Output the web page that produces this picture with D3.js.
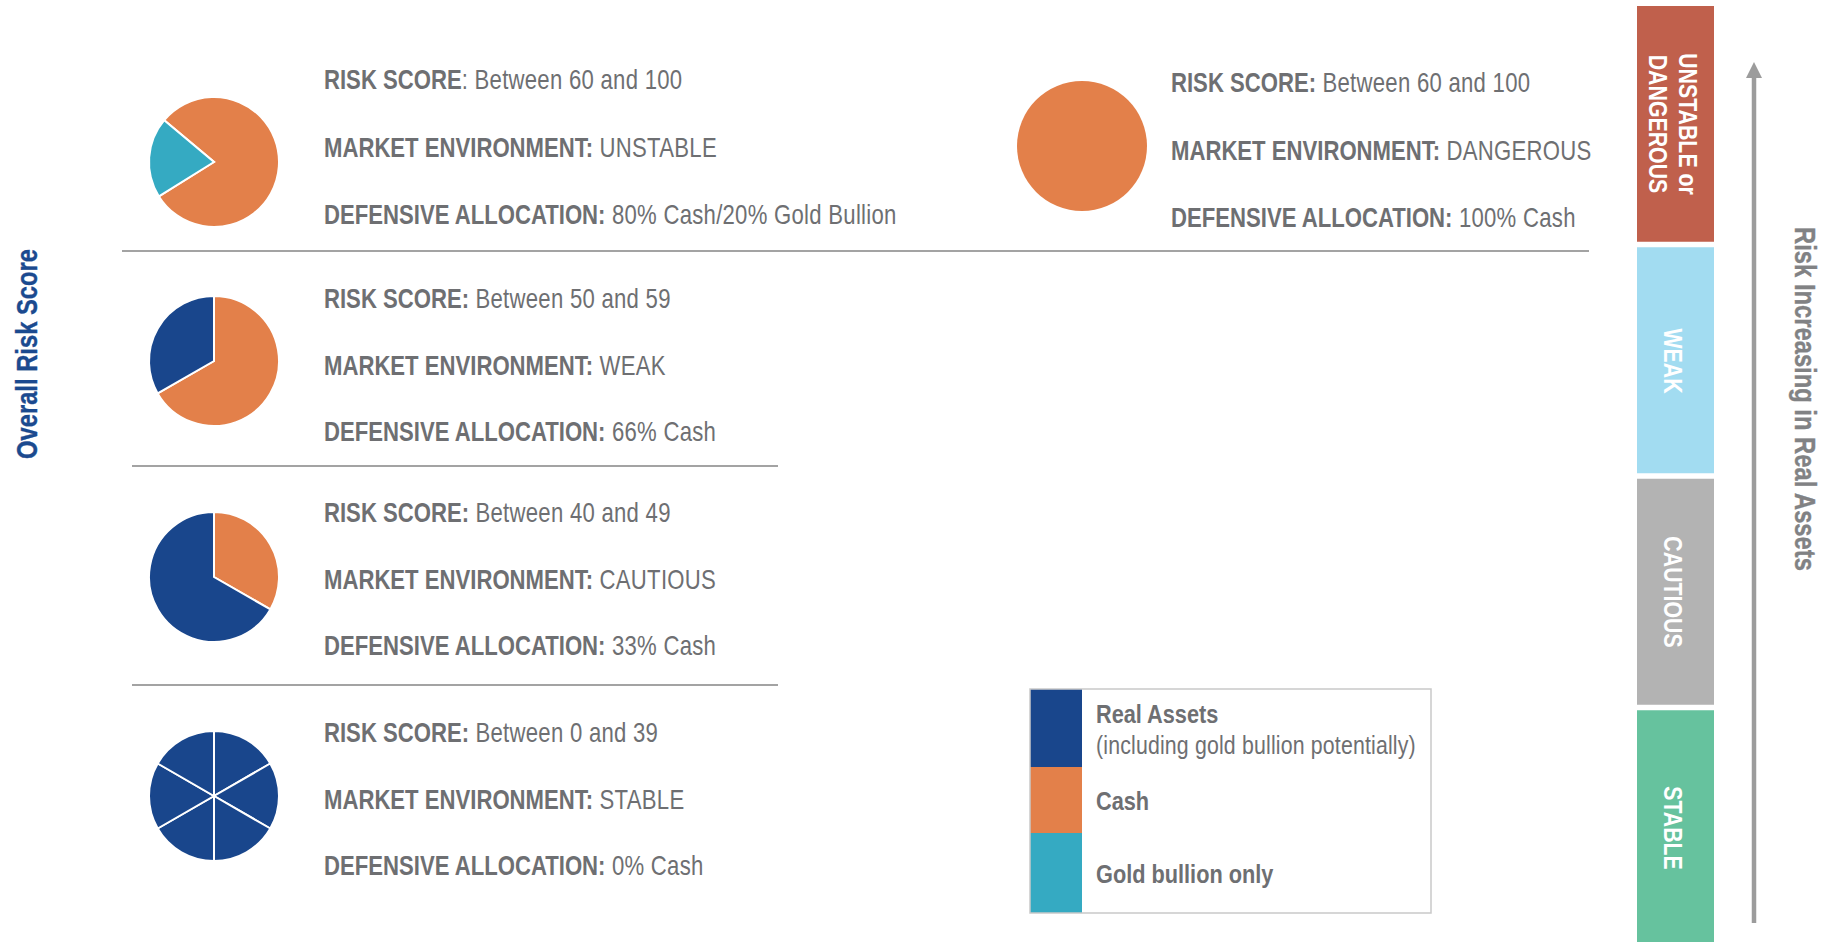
<!DOCTYPE html>
<html>
<head>
<meta charset="utf-8">
<script src="https://cdn.jsdelivr.net/npm/d3@7/dist/d3.min.js"></script>
<style>
  html, body { margin: 0; padding: 0; background: #ffffff; }
  svg { display: block; }
  text { white-space: pre; }
</style>
</head>
<body>
<div id="chart"></div>
<script>
// ---------------- DATA ----------------
const fieldNames   = ["RISK SCORE", "MARKET ENVIRONMENT", "DEFENSIVE ALLOCATION"];
const environments = ["UNSTABLE", "WEAK", "CAUTIOUS", "STABLE", "DANGEROUS"];
const riskRanges   = ["Between 60 and 100", "Between 50 and 59", "Between 40 and 49", "Between 0 and 39", "Between 60 and 100"];
const allocations  = ["80% Cash/20% Gold Bullion", "66% Cash", "33% Cash", "0% Cash", "100% Cash"];

// pie slices (percent of portfolio), in drawing order
const pieValues = [
  [80, 20],
  [66.7, 33.3],
  [33.3, 66.7],
  [16.7, 16.7, 16.7, 16.7, 16.7, 16.7],
  [100]
];
const pieKinds = [
  ["Cash", "Gold"],
  ["Cash", "Real"],
  ["Cash", "Real"],
  ["Real", "Real", "Real", "Real", "Real", "Real"],
  ["Cash"]
];
const pieStartDeg = [-50, 0, 0, 0, 0];

const legendLabels = ["Real Assets", "Cash", "Gold bullion only"];
const legendKinds  = ["Real", "Cash", "Gold"];
const legendNote   = "(including gold bullion potentially)";

const bandLabels = [["UNSTABLE or", "DANGEROUS"], ["WEAK"], ["CAUTIOUS"], ["STABLE"]];
const leftTitle  = "Overall Risk Score";
const rightTitle = "Risk Increasing in Real Assets";

// ---------------- STYLE ----------------
const W = 1826, H = 942;
const COLORS = { Cash: "#e3804a", Gold: "#35aac2", Real: "#19468c" };
const BAND_COLORS = ["#c0604c", "#a2dcf1", "#b3b3b3", "#66c29e"];
const TEXT_GRAY = "#6e6f72";
const TITLE_BLUE = "#1b4a8f";
const ARROW_GRAY = "#9c9c9c";
const RULE_GRAY = "#a3a3a3";

const svg = d3.select("#chart").append("svg")
  .attr("width", W).attr("height", H)
  .attr("viewBox", `0 0 ${W} ${H}`);

// --- font detection (condensed font) ---
function measure(family, weight) {
  const t = svg.append("text").attr("font-family", family).attr("font-weight", weight)
    .attr("font-size", 100).text("DEFENSIVE ALLOCATION");
  const w = t.node().getComputedTextLength();
  t.remove();
  return w;
}
const wNarrow = measure("'Liberation Sans Narrow'", "bold");
const wSans = measure("'Liberation Sans'", "bold");
const NARROW = wNarrow < 0.9 * wSans;
const FAMILY = NARROW ? "'Liberation Sans Narrow', 'Arial Narrow', sans-serif" : "'Liberation Sans', Arial, sans-serif";
const SX = NARROW ? 1 : 0.82;

function addText(parent, x, y, rot, anchor, size, parts, color, dy = 0) {
  const g = parent.append("g")
    .attr("transform", `translate(${x},${y}) rotate(${rot}) scale(${SX},1)`);
  const t = g.append("text")
    .attr("x", 0).attr("y", dy)
    .attr("text-anchor", anchor)
    .attr("font-family", FAMILY)
    .attr("font-size", size)
    .attr("fill", color);
  parts.forEach(p => {
    const s = t.append("tspan").attr("font-weight", p.w).text(p.t);
    if (p.ls) s.attr("letter-spacing", p.ls);
  });
  return t;
}

// ---------------- SCALES ----------------
// rows of the left column (text baseline of first line)
const rowY = d3.scaleLinear().domain([0, 1, 2, 3]).range([89, 308, 522, 742]);
const LINE_GAP = 66.5;
const pieCenterY = d3.scaleLinear().domain([0, 1, 2, 3]).range([162, 361, 577, 796]);
const ruleY = d3.scaleLinear().domain([0, 1, 2]).range([251, 466, 685]);
const PIE_R = 65;

// ---------------- LEFT COLUMN ----------------
const arc = d3.arc().innerRadius(0).outerRadius(PIE_R);

function drawPie(cx, cy, i) {
  const pie = d3.pie().sort(null).value(d => d)
    .startAngle(pieStartDeg[i] * Math.PI / 180)
    .endAngle(pieStartDeg[i] * Math.PI / 180 + 2 * Math.PI);
  const g = svg.append("g").attr("transform", `translate(${cx},${cy})`);
  g.selectAll("path").data(pie(pieValues[i])).join("path")
    .attr("d", arc)
    .attr("fill", (d, j) => COLORS[pieKinds[i][j]])
    .attr("stroke", "#ffffff")
    .attr("stroke-width", pieValues[i].length > 1 ? 2 : 0);
}

const REG_LS = 0.33;
function drawInfo(x, y0, i, boldColonFirst, gap) {
  const lines = [
    [{ t: fieldNames[0] + (boldColonFirst ? ":" : ""), w: "bold" }, { t: (boldColonFirst ? " " : ": ") + riskRanges[i], w: "normal", ls: REG_LS }],
    [{ t: fieldNames[1] + ":", w: "bold" }, { t: " " + environments[i], w: "normal", ls: REG_LS }],
    [{ t: fieldNames[2] + ":", w: "bold" }, { t: " " + allocations[i], w: "normal", ls: REG_LS }]
  ];
  lines.forEach((parts, k) => addText(svg, x, y0 + k * gap, 0, "start", 27, parts, TEXT_GRAY));
}

for (let i = 0; i < 4; i++) {
  drawPie(214, pieCenterY(i), i);
  drawInfo(324, rowY(i), i, i !== 0, i === 0 ? 67.5 : LINE_GAP);
}

// separator rules
const rules = [
  { x1: 122, x2: 1589, y: ruleY(0) },
  { x1: 132, x2: 778, y: ruleY(1) },
  { x1: 132, x2: 778, y: ruleY(2) }
];
svg.selectAll("line.rule").data(rules).join("line")
  .attr("class", "rule")
  .attr("x1", d => d.x1).attr("x2", d => d.x2)
  .attr("y1", d => d.y).attr("y2", d => d.y)
  .attr("stroke", RULE_GRAY).attr("stroke-width", 2);

// ---------------- RIGHT GROUP (DANGEROUS) ----------------
drawPie(1082, 146, 4);
drawInfo(1171, 92, 4, true, 67.5);

// ---------------- LEGEND ----------------
const legendX = 1030, legendY = 689, legendW = 401, legendH = 224;
const swatchW = 52;
const swatchY = d3.scaleLinear().domain([0, 224]).range([legendY, legendY + legendH]);
const swatchBreaks = [0, 78, 144, 224];
svg.selectAll("rect.sw").data(legendKinds).join("rect")
  .attr("class", "sw")
  .attr("x", legendX)
  .attr("y", (d, i) => swatchY(swatchBreaks[i]))
  .attr("width", swatchW)
  .attr("height", (d, i) => swatchY(swatchBreaks[i + 1]) - swatchY(swatchBreaks[i]))
  .attr("fill", d => COLORS[d]);
svg.append("rect")
  .attr("x", legendX).attr("y", legendY)
  .attr("width", legendW).attr("height", legendH)
  .attr("fill", "none").attr("stroke", "#c9c9c9").attr("stroke-width", 1.5);
const legendBase = [34, 121, 194];
legendLabels.forEach((lab, i) => {
  addText(svg, legendX + 66, legendY + legendBase[i], 0, "start", 26.5, [{ t: lab, w: "bold" }], TEXT_GRAY);
});
addText(svg, legendX + 66, legendY + 65, 0, "start", 26, [{ t: legendNote, w: "normal", ls: 0.2 }], TEXT_GRAY);

// ---------------- RIGHT BANDS ----------------
const bandEdge = d3.scaleLinear().domain([0, 1, 2, 3, 4]).range([6, 244.5, 476, 707.5, 946]);
const BAND_GAP = 5.5;
const bandTop = i => bandEdge(i) + (i > 0 ? BAND_GAP / 2 : 0);
const bandBottom = i => bandEdge(i + 1) - BAND_GAP / 2;
const bandX = 1637, bandW = 77;
svg.selectAll("rect.band").data(bandLabels).join("rect")
  .attr("class", "band")
  .attr("x", bandX)
  .attr("y", (d, i) => bandTop(i))
  .attr("width", bandW)
  .attr("height", (d, i) => bandBottom(i) - bandTop(i))
  .attr("fill", (d, i) => BAND_COLORS[i]);

const bandTextCY = [124, 361, 592, 828];
bandLabels.forEach((lines, i) => {
  const cy = bandTextCY[i];
  const cx = bandX + bandW / 2;
  if (lines.length === 2) {
    addText(svg, cx, cy, 90, "middle", 26, [{ t: lines[0], w: "bold" }], "#ffffff", -4);
    addText(svg, cx, cy, 90, "middle", 26, [{ t: lines[1], w: "bold" }], "#ffffff", 27);
  } else {
    addText(svg, cx, cy, 90, "middle", 26, [{ t: lines[0], w: "bold" }], "#ffffff", 11);
  }
});

// ---------------- ARROW ----------------
const arrowX = 1754;
svg.append("line")
  .attr("x1", arrowX).attr("x2", arrowX)
  .attr("y1", 923).attr("y2", 74)
  .attr("stroke", ARROW_GRAY).attr("stroke-width", 4.5);
svg.append("path")
  .attr("d", d3.line()([[arrowX - 8, 78], [arrowX, 62], [arrowX + 8, 78]]) + "Z")
  .attr("fill", ARROW_GRAY);

// ---------------- AXIS TITLES ----------------
addText(svg, 26, 354, -90, "middle", 29, [{ t: leftTitle, w: "bold" }], TITLE_BLUE, 11)
  .attr("stroke", TITLE_BLUE).attr("stroke-width", 0.4);
addText(svg, 1804, 399, 90, "middle", 29, [{ t: rightTitle, w: "bold" }], "#818284", 9)
  .attr("stroke", "#818284").attr("stroke-width", 0.4);
</script>
</body>
</html>
